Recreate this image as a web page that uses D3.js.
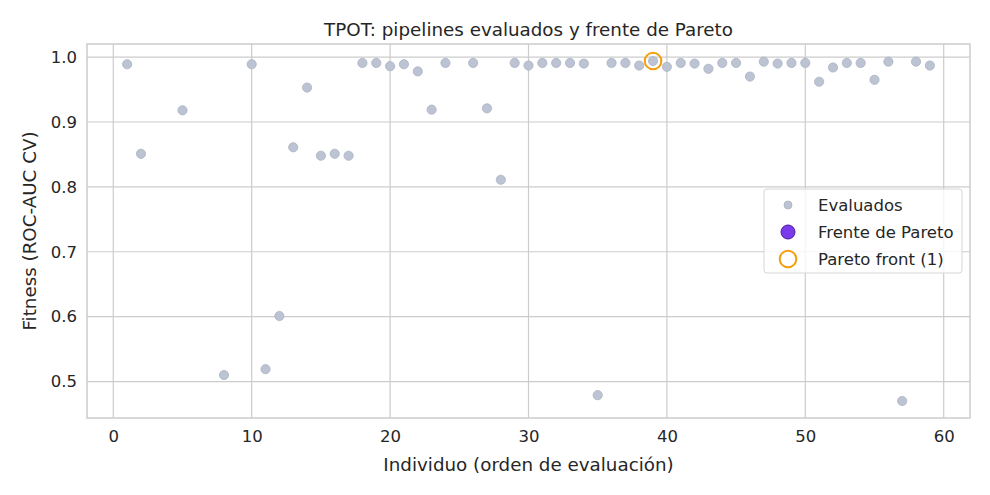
<!DOCTYPE html>
<html>
<head>
<meta charset="utf-8">
<script src="https://cdn.jsdelivr.net/npm/d3@7"></script>
<style>
  body { margin: 0; background: #fff; }
  text { font-family: "DejaVu Sans", sans-serif; fill: #262626; }
</style>
</head>
<body>
<div id="chart"></div>
<script>
// evaluated individuals (evaluation order) and their fitness
const individuals = [1, 2, 5, 8, 10, 11, 12, 13, 14, 15, 16, 17, 18, 19, 20, 21, 22, 23, 24, 26, 27, 28, 29, 30,
    31, 32, 33, 34, 35, 36, 37, 38, 39, 40, 41, 42, 43, 44, 45, 46, 47, 48, 49, 50, 51, 52, 53, 54, 55, 56, 57, 58, 59];
const fitness = [0.989, 0.851, 0.918, 0.510, 0.989, 0.519, 0.601, 0.861, 0.953, 0.848, 0.851, 0.848, 0.991, 0.991,
    0.986, 0.989, 0.978, 0.919, 0.991, 0.991, 0.921, 0.811, 0.991, 0.987,
    0.991, 0.991, 0.991, 0.990, 0.479, 0.991, 0.991, 0.987, 0.994, 0.985, 0.991, 0.990, 0.982, 0.991, 0.991, 0.970,
    0.993, 0.990, 0.991, 0.991, 0.962, 0.984, 0.991, 0.991, 0.965, 0.993, 0.470, 0.993, 0.987];

// pareto front (single point)
const paretoX = [39];
const paretoY = [0.994];

const xTicks = [0, 10, 20, 30, 40, 50, 60];
const yTicks = [0.5, 0.6, 0.7, 0.8, 0.9, 1.0];

const legendLabels = ["Evaluados", "Frente de Pareto", "Pareto front (1)"];

const width = 990, height = 495;
const margin = {top: 44, right: 20, bottom: 77, left: 87};

const svg = d3.select("#chart")
    .append("svg")
    .attr("width", width)
    .attr("height", height);

// axis domains with matplotlib-like 5% padding
const xPad = (d3.max(individuals) - d3.min(individuals)) * 0.05;
const yPad = (d3.max(fitness) - d3.min(fitness)) * 0.05;

const x = d3.scaleLinear()
    .domain([d3.min(individuals) - xPad, d3.max(individuals) + xPad])
    .range([margin.left, width - margin.right]);

const y = d3.scaleLinear()
    .domain([d3.min(fitness) - yPad, Math.max(d3.max(fitness), d3.max(paretoY)) + yPad])
    .range([height - margin.bottom, margin.top]);

const gridColor = "#cccccc";

// grid
svg.append("g")
    .selectAll("line")
    .data(xTicks)
    .join("line")
    .attr("x1", d => x(d)).attr("x2", d => x(d))
    .attr("y1", margin.top).attr("y2", height - margin.bottom)
    .attr("stroke", gridColor).attr("stroke-width", 1.2);

svg.append("g")
    .selectAll("line")
    .data(yTicks)
    .join("line")
    .attr("x1", margin.left).attr("x2", width - margin.right)
    .attr("y1", d => y(d)).attr("y2", d => y(d))
    .attr("stroke", gridColor).attr("stroke-width", 1.2);

// axes (ticks hidden, labels only)
const xAxis = svg.append("g")
    .attr("transform", `translate(0,${height - margin.bottom})`)
    .call(d3.axisBottom(x).tickValues(xTicks).tickSize(0).tickPadding(12).tickFormat(d3.format("d")));

const yAxis = svg.append("g")
    .attr("transform", `translate(${margin.left},0)`)
    .call(d3.axisLeft(y).tickValues(yTicks).tickSize(0).tickPadding(10).tickFormat(d3.format(".1f")));

[xAxis, yAxis].forEach(a => {
    a.select(".domain").remove();
    a.selectAll("text")
        .style("font-family", "DejaVu Sans, sans-serif")
        .style("font-size", "16.5px")
        .attr("fill", "#262626");
});

// frame
svg.append("rect")
    .attr("x", margin.left)
    .attr("y", margin.top)
    .attr("width", width - margin.left - margin.right)
    .attr("height", height - margin.top - margin.bottom)
    .attr("fill", "none")
    .attr("stroke", gridColor)
    .attr("stroke-width", 1.5);

// evaluated points
svg.append("g")
    .selectAll("circle")
    .data(individuals)
    .join("circle")
    .attr("cx", d => x(d))
    .attr("cy", (d, i) => y(fitness[i]))
    .attr("r", 4.6)
    .attr("fill", "#bcc3d2")
    .attr("stroke", "#aab2c4")
    .attr("stroke-width", 0.8);

// pareto ring
svg.append("g")
    .selectAll("circle")
    .data(paretoX)
    .join("circle")
    .attr("cx", d => x(d))
    .attr("cy", (d, i) => y(paretoY[i]))
    .attr("r", 8.3)
    .attr("fill", "none")
    .attr("stroke", "#f59e0b")
    .attr("stroke-width", 2);

// title and labels
svg.append("text")
    .attr("x", (margin.left + width - margin.right) / 2)
    .attr("y", 36)
    .attr("text-anchor", "middle")
    .style("font-size", "18.3px")
    .text("TPOT: pipelines evaluados y frente de Pareto");

svg.append("text")
    .attr("x", (margin.left + width - margin.right) / 2)
    .attr("y", 471)
    .attr("text-anchor", "middle")
    .style("font-size", "18.3px")
    .text("Individuo (orden de evaluación)");

svg.append("text")
    .attr("transform", `translate(36,${(margin.top + height - margin.bottom) / 2}) rotate(-90)`)
    .attr("text-anchor", "middle")
    .style("font-size", "18.3px")
    .text("Fitness (ROC-AUC CV)");

// legend
const legend = svg.append("g").attr("transform", "translate(764,189)");
legend.append("rect")
    .attr("width", 198).attr("height", 84)
    .attr("rx", 3)
    .attr("fill", "#fff").attr("fill-opacity", 0.8)
    .attr("stroke", "#d6d6d6");

const rows = legend.selectAll("g.row")
    .data(legendLabels)
    .join("g")
    .attr("class", "row")
    .attr("transform", (d, i) => `translate(0,${15 + i * 27})`);

rows.each(function(d, i) {
    const g = d3.select(this);
    if (i === 0) {
        g.append("circle").attr("cx", 24).attr("cy", 1).attr("r", 4)
            .attr("fill", "#bcc3d2").attr("stroke", "#aab2c4").attr("stroke-width", 0.8);
    } else if (i === 1) {
        g.append("circle").attr("cx", 24).attr("cy", 1).attr("r", 7)
            .attr("fill", "#7c3aed").attr("stroke", "#4c1d95").attr("stroke-width", 1);
    } else {
        g.append("circle").attr("cx", 24).attr("cy", 1).attr("r", 8.3)
            .attr("fill", "none").attr("stroke", "#f59e0b").attr("stroke-width", 2);
    }
    g.append("text")
        .attr("x", 54).attr("y", 6.5)
        .style("font-size", "16.5px")
        .text(d);
});
</script>
</body>
</html>
